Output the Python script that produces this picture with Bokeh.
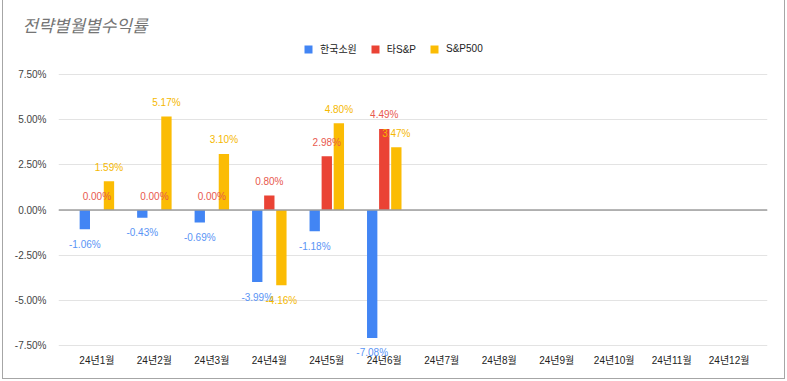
from bokeh.plotting import figure
from bokeh.models import (ColumnDataSource, FactorRange, FixedTicker, PrintfTickFormatter,
                          Span, Legend, LegendItem, LabelSet, Title, Range1d, InlineStyleSheet)
from bokeh.transform import dodge
from bokeh.core.properties import value
from bokeh.embed import file_html
from bokeh.resources import INLINE

# ---------------- data ----------------
months = ["24년1월", "24년2월", "24년3월", "24년4월", "24년5월", "24년6월",
          "24년7월", "24년8월", "24년9월", "24년10월", "24년11월", "24년12월"]
data_months = ["24년1월", "24년2월", "24년3월", "24년4월", "24년5월", "24년6월"]
series_names = ["한국소원", "타S&P", "S&P500"]
korea = [-1.06, -0.43, -0.69, -3.99, -1.18, -7.08]
ta_sp = [0.00, 0.00, 0.00, 0.80, 2.98, 4.49]
sp500 = [1.59, 5.17, 3.10, -4.16, 4.80, 3.47]
y_ticks = [-7.5, -5.0, -2.5, 0.0, 2.5, 5.0, 7.5]
title_text = "전략별월별수익률"

# ---------------- styles ----------------
bar_colors = ["#4285F4", "#EA4335", "#FBBC04"]
label_colors = ["#5a94f5", "#e8594e", "#f5b800"]
offsets = [-0.21, 0.0, 0.21]
FONT = "Liberation Sans, Noto Sans CJK KR"
TOP_BORDER = 36
EXTRA_BOTTOM = 16   # headroom below -7.5% so that bottom data labels are not clipped
px_per_unit = 271 / 15.0
y_end = 7.5 + (74 - TOP_BORDER) / px_per_unit
y_start = -7.5 - EXTRA_BOTTOM / px_per_unit

p = figure(x_range=FactorRange(factors=months, range_padding=0.168, range_padding_units="absolute"),
           y_range=Range1d(y_start, y_end),
           width=787, height=381,
           min_border_left=58, min_border_right=20, min_border_top=TOP_BORDER,
           min_border_bottom=36 - EXTRA_BOTTOM,
           output_backend="svg", toolbar_location=None)
p.outline_line_color = None
p.background_fill_color = "white"
p.border_fill_color = "white"
p.stylesheets = [InlineStyleSheet(css=(
    ":host::after { content: ''; position: absolute; left: 2px; right: 2px; top: -10px; bottom: 2px;"
    " border: 1px solid #a6a6a6; pointer-events: none; }"))]

series = [korea, ta_sp, sp500]
renderers = []
for vals, name, col, lcol, off in zip(series, series_names, bar_colors, label_colors, offsets):
    src = ColumnDataSource(dict(
        month=data_months,
        val=vals,
        label=[f"{v:.2f}%" for v in vals],
        yoff=[14 if v >= 0 else -15 for v in vals],
    ))
    r = p.vbar(x=dodge("month", off, range=p.x_range), top="val", bottom=0, width=0.18,
               source=src, fill_color=col, line_color=None)
    renderers.append(r)
    ls = LabelSet(x=dodge("month", off, range=p.x_range), y="val", text="label", y_offset="yoff",
                  source=src, text_align="center", text_baseline="middle",
                  text_font_size="10px", text_color=lcol, text_font=value(FONT))
    p.add_layout(ls)

p.add_layout(Span(location=0, dimension="width", line_color="#9e9e9e", line_width=1.5))

# axes
p.yaxis.ticker = FixedTicker(ticks=y_ticks)
p.yaxis.formatter = PrintfTickFormatter(format="%.2f%%")
p.yaxis.axis_line_color = None
p.yaxis.major_tick_line_color = None
p.yaxis.minor_tick_line_color = None
p.yaxis.major_label_standoff = 6
p.yaxis.major_label_text_font_size = "10px"
p.yaxis.major_label_text_color = "#444444"
p.yaxis.major_label_text_font = FONT

p.xaxis.axis_line_color = None
p.xaxis.major_tick_line_color = None
p.xaxis.minor_tick_line_color = None
p.xaxis.major_label_standoff = 3 - EXTRA_BOTTOM
p.xaxis.major_label_text_font_size = "10px"
p.xaxis.major_label_text_color = "#222222"
p.xaxis.major_label_text_font = FONT

p.xgrid.grid_line_color = None
p.ygrid.grid_line_color = "#e3e3e3"
p.ygrid.grid_line_width = 1

# legend
legend = Legend(items=[LegendItem(label=n, renderers=[r]) for n, r in zip(series_names, renderers)],
                orientation="horizontal", location=(245, 289 + EXTRA_BOTTOM),
                glyph_width=10, glyph_height=10, label_standoff=7, spacing=13,
                padding=0, margin=0, border_line_color=None, background_fill_alpha=0,
                label_text_font_size="10px", label_text_color="#222222", label_text_font=FONT)
p.add_layout(legend, "center")

# title
p.title = Title(text=title_text, align="left", offset=-36, standoff=2,
                text_font=FONT, text_font_size="17px", text_font_style="italic",
                text_color="#757575")

open("out.html", "w").write(file_html(p, INLINE))
